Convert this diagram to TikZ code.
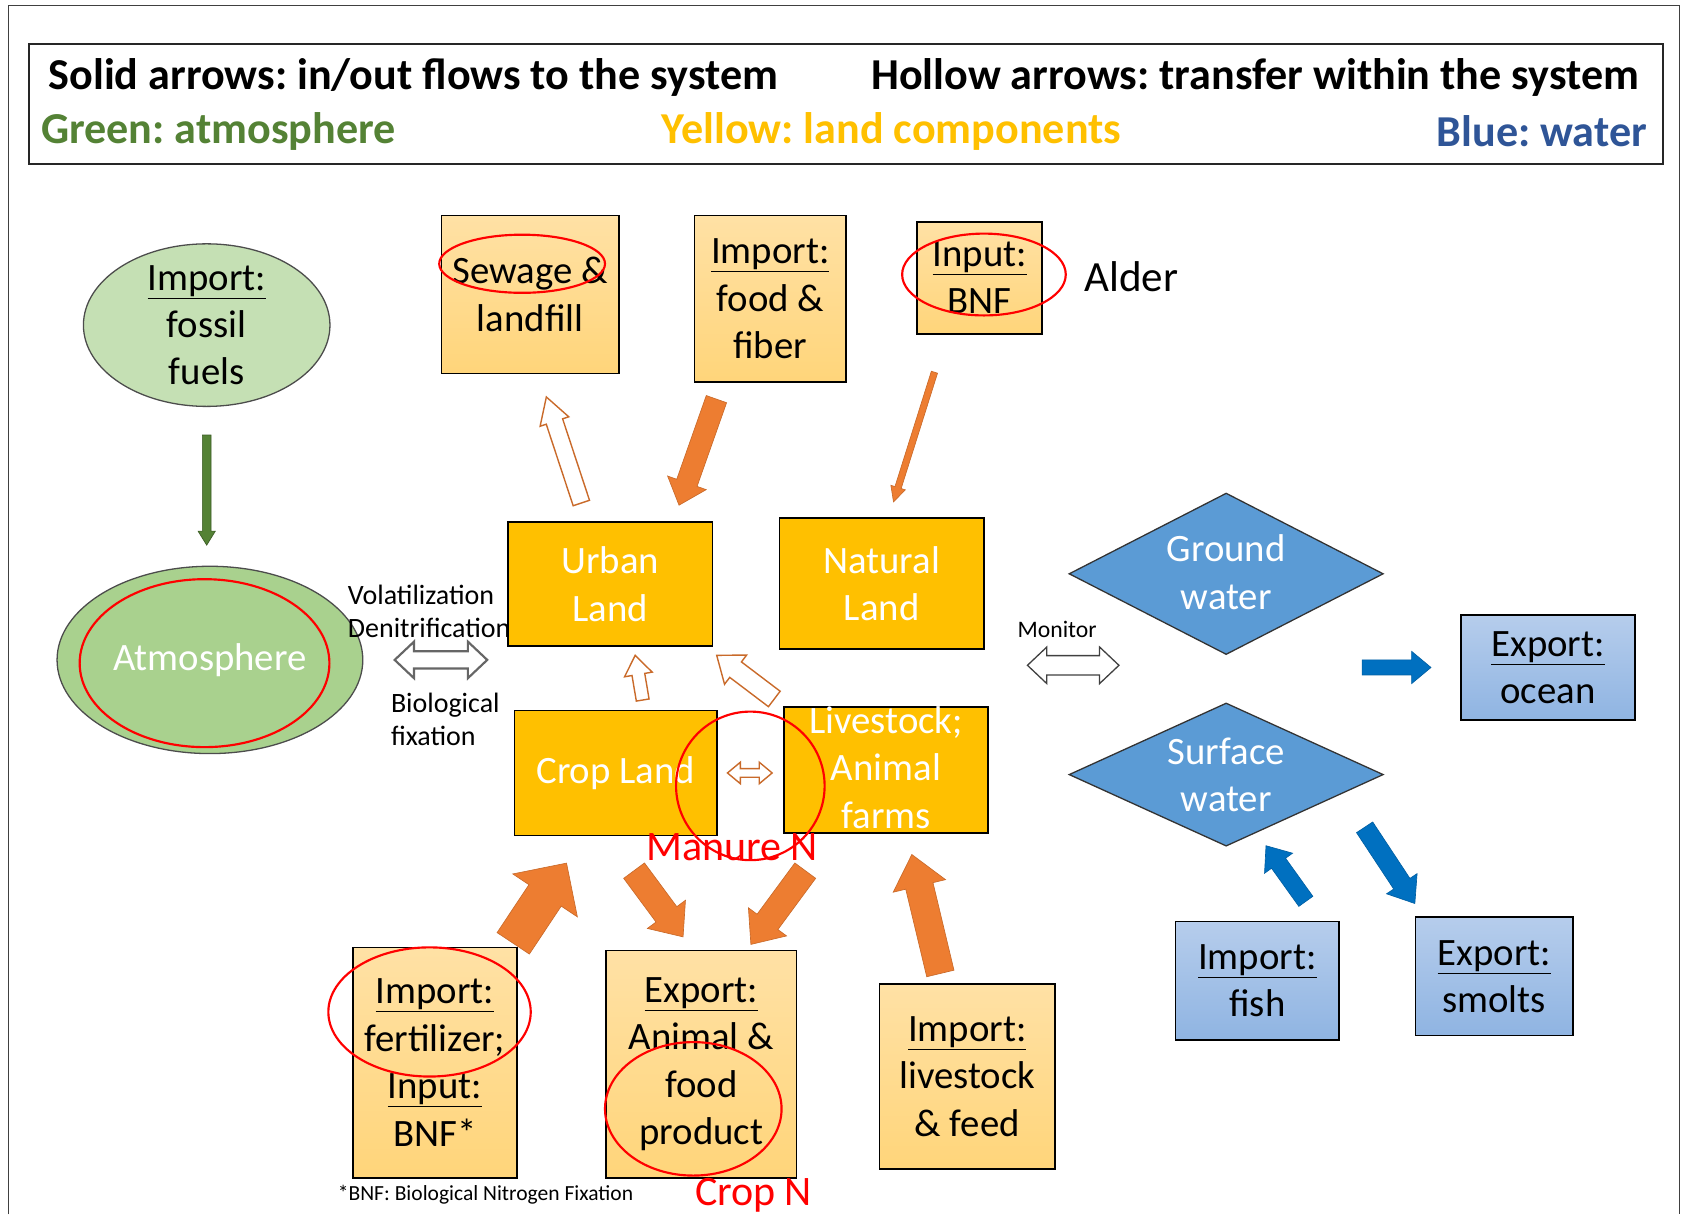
\documentclass[tikz,border=0pt]{standalone}
\usepackage{fontspec}
\setmainfont{Carlito}
\usepackage{tikz}
\usetikzlibrary{shapes.geometric}
\usetikzlibrary{calc}
\frenchspacing

\definecolor{atmlight}{RGB}{197,224,180}
\definecolor{atmfill}{RGB}{169,209,142}
\definecolor{atmdark}{RGB}{84,130,53}
\definecolor{landyel}{RGB}{255,192,0}
\definecolor{landtop}{RGB}{255,225,165}
\definecolor{landbot}{RGB}{255,213,122}
\definecolor{orgarrow}{RGB}{237,125,49}
\definecolor{waterfill}{RGB}{91,155,213}
\definecolor{watertop}{RGB}{182,205,236}
\definecolor{waterbot}{RGB}{143,180,226}
\definecolor{bluearrow}{RGB}{0,112,192}
\definecolor{titleblue}{RGB}{47,85,151}

\tikzset{
  hdr/.style={font=\fontsize{41}{48}\bfseries\selectfont, inner sep=0},
  lbl/.style={font=\fontsize{26}{31}\selectfont, inner sep=0, align=left},
  redtxt/.style={font=\fontsize{39}{46}\selectfont, inner sep=0, text=red},
  landbox/.style={draw=black, line width=1.5, fill=landyel, text=white},
  inbox/.style={draw=black, line width=1.5, top color=landtop, bottom color=landbot},
  waterbox/.style={draw=black, line width=1.5, top color=watertop, bottom color=waterbot},
  waterdia/.style={diamond, draw=black!80, line width=1.2, fill=waterfill},
  redmark/.style={draw=red, line width=2},
  solidorg/.style={fill=orgarrow, draw=orgarrow!85!black, line width=0.6},
  hollowgray/.style={fill=white, draw=black!60, line width=2},
  hollowblack/.style={fill=white, draw=black!75, line width=1.2},
  hollowor/.style={fill=white, draw=orgarrow!85!black, line width=1.3},
  solidblue/.style={fill=bluearrow, draw=bluearrow!85!black, line width=0.6}
}

% block arrow: style, from, to, half shaft, half head, head length
\newcommand{\blockarrow}[6]{%
  \coordinate (bahead) at ($(#3)!#6!(#2)$);
  \filldraw[#1] ($(#2)!#4!90:(#3)$) -- ($(bahead)!#4!90:(#3)$) -- ($(bahead)!#5!90:(#3)$) -- (#3)
    -- ($(bahead)!#5!-90:(#3)$) -- ($(bahead)!#4!-90:(#3)$) -- ($(#2)!#4!-90:(#3)$) -- cycle;
}
% two-headed block arrow
\newcommand{\dblarrow}[6]{%
  \coordinate (dbone) at ($(#2)!#6!(#3)$);
  \coordinate (dbtwo) at ($(#3)!#6!(#2)$);
  \filldraw[#1] (#2) -- ($(dbone)!#5!90:(#3)$) -- ($(dbone)!#4!90:(#3)$) -- ($(dbtwo)!#4!90:(#3)$)
    -- ($(dbtwo)!#5!90:(#3)$) -- (#3) -- ($(dbtwo)!#5!-90:(#3)$) -- ($(dbtwo)!#4!-90:(#3)$)
    -- ($(dbone)!#4!-90:(#3)$) -- ($(dbone)!#5!-90:(#3)$) -- cycle;
}

\begin{document}
\begin{tikzpicture}[x=1pt, y=-1pt,
  every node/.style={font=\fontsize{36}{44}\selectfont, align=center, inner sep=0}]
	\useasboundingbox[fill=white] (0,0) rectangle (1568,1128);
	\draw[line width=1.5, black!75] (8,1128) -- (8,5) -- (1560,5) -- (1560,1128);
	
	% legend
	\node[draw=black!85, line width=2, minimum width=1518, minimum height=111] (legend) at (786,96.5) {};
	\node[hdr, anchor=west] (solidtxt) at (45,72) {Solid arrows: in/out flows to the system};
	\node[hdr, anchor=east] (hollowtxt) at (1523,72) {Hollow arrows: transfer within the system};
	\node[hdr, anchor=west, text=atmdark] (greentxt) at (38,122) {Green: atmosphere};
	\node[hdr, text=landyel] (yellowtxt) at (828,122) {Yellow: land components};
	\node[hdr, anchor=east, text=titleblue] (bluetxt) at (1530,122) {Blue: water};
	
	% atmosphere
	\node[ellipse, draw=black!70, line width=1.2, fill=atmlight, minimum width=229, minimum height=151] (fossil) at (192,302) {};
	\node at (fossil) {\underline{Import:}\\fossil\\fuels};
	\node[ellipse, draw=black!70, line width=1.2, fill=atmfill, minimum width=284, minimum height=174] (atmos) at (195,613) {};
	\node[text=white] at (atmos) {Atmosphere};
	\draw[redmark] (190,616) ellipse (116 and 78);
	
	% inputs and outputs of the land
	\node[inbox, minimum width=165, minimum height=147] (sewage) at (492.5,273.5) {Sewage \&\\landfill};
	\node[inbox, minimum width=141, minimum height=155] (food) at (715.5,277.5) {\underline{Import:}\\food \&\\fiber};
	\node[inbox, minimum width=116, minimum height=104] (bnf) at (910,258) {\underline{Input:}\\BNF};
	\node[font=\fontsize{40}{48}\selectfont] (alder) at (1051,257) {Alder};
	\draw[redmark] (485,245) ellipse (77 and 27);
	\draw[redmark] (914,255) ellipse (76 and 38);
	
	% land components
	\node[landbox, minimum width=190, minimum height=115] (urban) at (567,542.5) {Urban\\Land};
	\node[landbox, minimum width=190, minimum height=122] (natural) at (819,542) {Natural\\Land};
	\node[landbox, minimum width=188, minimum height=116] (crop) at (572,718) {Crop Land};
	\node[landbox, minimum width=190, minimum height=117] (stock) at (823,715.5) {};
	\node[text=white] at (823,713) {Livestock;\\Animal\\farms};
	
	\node[inbox, minimum width=152, minimum height=214] (fert) at (404,987) {\underline{Import:}\\fertilizer;\\\underline{Input:}\\BNF*};
	\node[inbox, minimum width=177, minimum height=211] (export) at (651.5,988.5) {\underline{Export:}\\Animal \&\\food\\product};
	\node[inbox, minimum width=163, minimum height=172] (feed) at (898.5,1000) {\underline{Import:}\\livestock\\\& feed};
	\node[font=\fontsize{20}{24}\selectfont] (bnfnote) at (451,1110) {*BNF: Biological Nitrogen Fixation};
	\draw[redmark] (697,730) circle (69);
	\draw[redmark] (399,940) ellipse (94 and 60);
	\draw[redmark] (644,1030) ellipse (82 and 62);
	\node[redtxt] (manure) at (680,787) {Manure N};
	\node[redtxt] (cropn) at (700,1110) {Crop N};
	
	% exchange with the atmosphere
	\node[lbl, anchor=west] (volat) at (323,568) {Volatilization\\Denitrification};
	\node[lbl, anchor=west] (fix) at (363,668) {Biological\\fixation};
	
	% water
	\node[waterdia, minimum width=292, minimum height=150] (ground) at (1139,533) {};
	\node[text=white] at (1139,531.5) {Ground\\water};
	\node[waterdia, minimum width=292, minimum height=133] (surface) at (1139,719.5) {};
	\node[text=white] at (surface) {Surface\\water};
	\node[waterbox, minimum width=162, minimum height=98] (ocean) at (1438,620) {\underline{Export:}\\ocean};
	\node[waterbox, minimum width=152, minimum height=110] (fish) at (1168,911) {\underline{Import:}\\fish};
	\node[waterbox, minimum width=146, minimum height=110] (smolts) at (1388,907) {\underline{Export:}\\smolts};
	\node[font=\fontsize{22}{26}\selectfont] (monitor) at (982,585) {Monitor};
	
	% arrow ends
	\coordinate (fa) at ($(fossil.south)+(0,26)$);
	\coordinate (fb) at ($(atmos.north)+(-3,-19)$);
	\coordinate (sa) at ($(urban.north)+(-27,-17)$);
	\coordinate (sb) at ($(sewage.south)+(15,21)$);
	\coordinate (da) at ($(food.south)+(-50,15)$);
	\coordinate (db) at ($(urban.north east)+(-32,-15)$);
	\coordinate (na) at ($(bnf.south)+(-42,35)$);
	\coordinate (nb) at ($(natural.north)+(11,-14)$);
	\coordinate (ca) at ($(crop.north)+(25,-9)$);
	\coordinate (cb) at ($(urban.south)+(23,8)$);
	\coordinate (la) at ($(stock.north west)+(-8,-7)$);
	\coordinate (lb) at ($(urban.south east)+(3,8)$);
	\coordinate (xa) at ($(crop.east)+(9,0)$);
	\coordinate (xb) at ($(stock.west)+(-10,2.5)$);
	\coordinate (aa) at ($(atmos.east)+(29,0)$);
	\coordinate (ab) at ($(atmos.east)+(115,0)$);
	\coordinate (ma) at ($(ground.west)+(-38,85)$);
	\coordinate (mb) at ($(ground.west)+(47,85)$);
	\coordinate (ra) at ($(fert.north east)+(-4,-3)$);
	\coordinate (rb) at ($(crop.south west)+(49,25)$);
	\coordinate (ea) at ($(crop.south)+(17,32)$);
	\coordinate (eb) at ($(export.north)+(-17,-12)$);
	\coordinate (ka) at ($(stock.south)+(-75,34)$);
	\coordinate (kb) at ($(export.north)+(46,-5)$);
	\coordinate (ga) at ($(feed.north)+(-25,-9)$);
	\coordinate (gb) at ($(stock.south)+(24,19)$);
	\coordinate (oa) at ($(ocean.west)+(-91,0)$);
	\coordinate (ob) at ($(ocean.west)+(-27,0)$);
	\coordinate (ha) at ($(fish.north)+(45,-18)$);
	\coordinate (hb) at ($(surface.south)+(37,-1)$);
	\coordinate (ta) at ($(surface.east)+(-18,49)$);
	\coordinate (tb) at ($(smolts.north west)+(0,-12)$);
	
	% flows
	\blockarrow{fill=atmdark, draw=atmdark!70!black, line width=0.6}{fa}{fb}{4pt}{8pt}{13pt}
	\blockarrow{hollowor}{sa}{sb}{8pt}{14pt}{24pt}
	\blockarrow{solidorg}{da}{db}{10pt}{19pt}{22pt}
	\blockarrow{solidorg}{na}{nb}{3pt}{7pt}{14pt}
	\blockarrow{hollowor}{ca}{cb}{6pt}{13pt}{18pt}
	\blockarrow{hollowor}{la}{lb}{9pt}{17pt}{22pt}
	\dblarrow{hollowor}{xa}{xb}{4pt}{10pt}{12pt}
	\dblarrow{hollowgray}{aa}{ab}{8pt}{17pt}{18pt}
	\dblarrow{hollowblack}{ma}{mb}{9pt}{17pt}{18pt}
	\blockarrow{solidorg}{ra}{rb}{18pt}{36pt}{36pt}
	\blockarrow{solidorg}{ea}{eb}{12pt}{22pt}{26pt}
	\blockarrow{solidorg}{ka}{kb}{12pt}{22pt}{26pt}
	\blockarrow{solidorg}{ga}{gb}{13pt}{25pt}{30pt}
	\blockarrow{solidblue}{oa}{ob}{7pt}{15pt}{18pt}
	\blockarrow{solidblue}{ha}{hb}{8pt}{16pt}{20pt}
	\blockarrow{solidblue}{ta}{tb}{9pt}{17pt}{22pt}
\end{tikzpicture}
\end{document}
